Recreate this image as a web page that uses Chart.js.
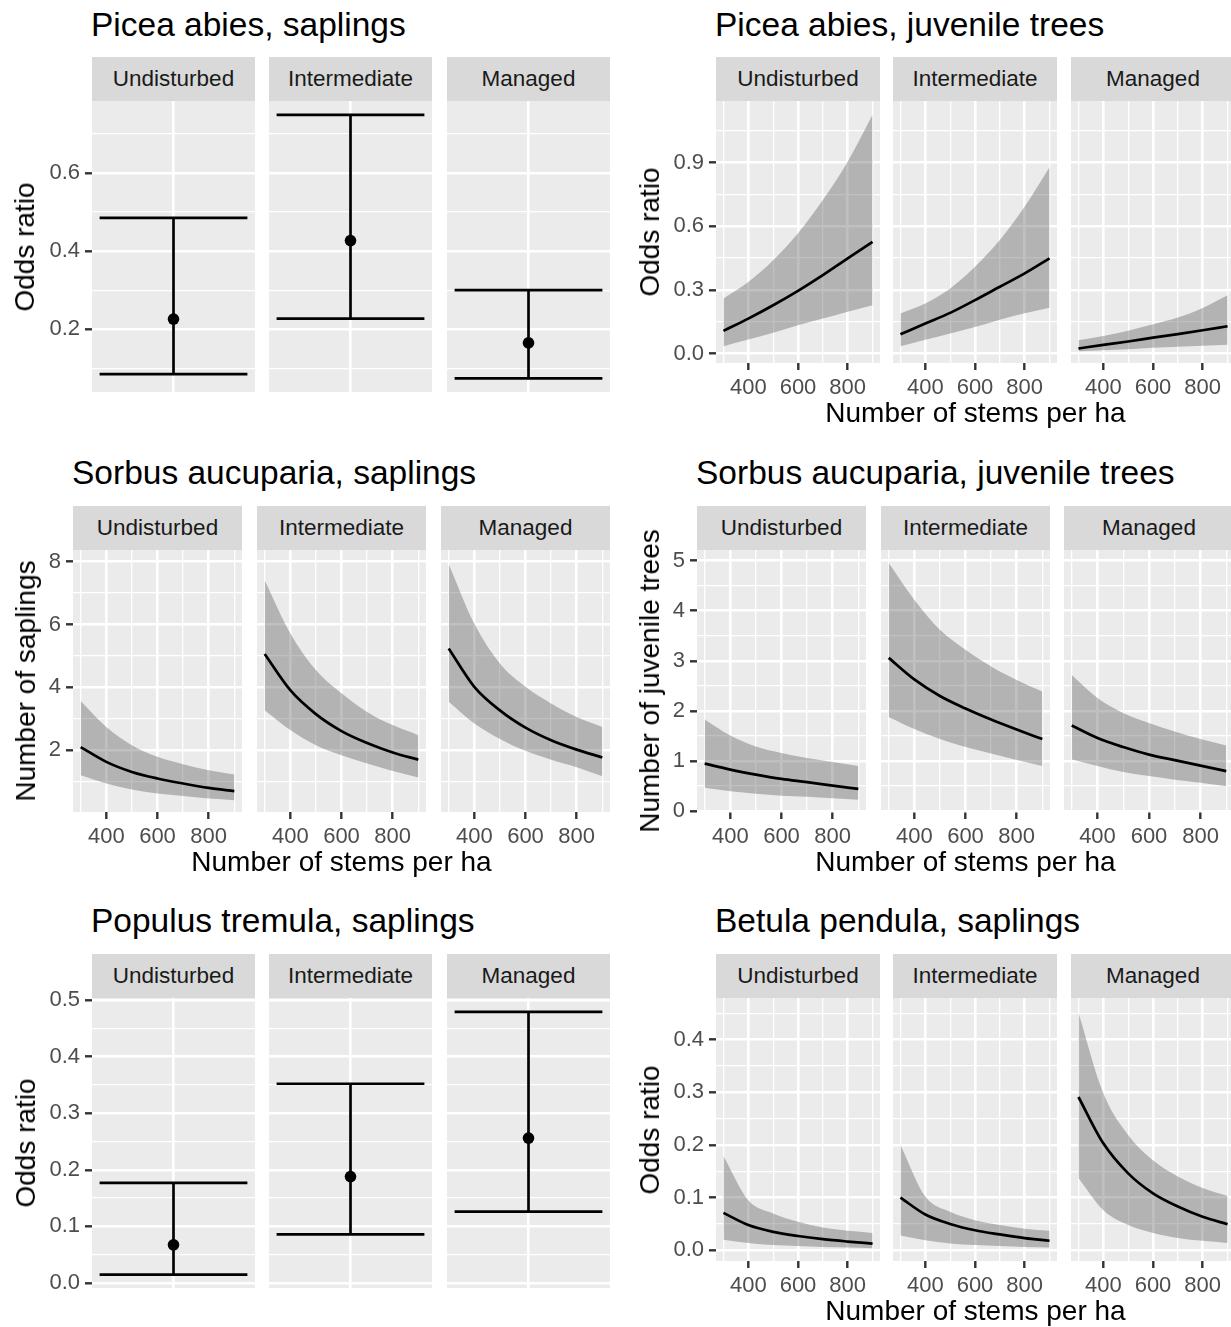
<!DOCTYPE html>
<html><head><meta charset="utf-8">
<script src="https://cdn.jsdelivr.net/npm/chart.js"></script>
<style>
html,body{margin:0;padding:0;background:#fff;}
body{width:1231px;height:1327px;position:relative;overflow:hidden;font-family:'Liberation Sans',Arial,Helvetica,sans-serif;}
.title{position:absolute;font-size:33.5px;line-height:33.5px;color:#000;white-space:nowrap;}
.strip{position:absolute;background:#D9D9D9;color:#1A1A1A;font-size:22.5px;line-height:44px;height:44px;text-align:center;white-space:nowrap;overflow:hidden;}
.ytitle{position:absolute;font-size:28px;line-height:28px;color:#000;white-space:nowrap;transform:translate(-50%,-50%) rotate(-90deg);}
.xtitle{position:absolute;font-size:28px;line-height:28px;color:#000;white-space:nowrap;transform:translateX(-50%);}
canvas{position:absolute;}
</style></head><body>
<script>
// ---------------- DATA ----------------
const facetNames = ["Undisturbed", "Intermediate", "Managed"];
const stems = [300, 400, 500, 600, 700, 800, 900];
const stemTicks = [400, 600, 800];
const stemMinor = [300, 500, 700, 900];

// Picea abies, saplings (odds ratio, estimate with CI)
const piceaSapEst = [0.226, 0.427, 0.165];
const piceaSapLo  = [0.085, 0.227, 0.074];
const piceaSapHi  = [0.485, 0.749, 0.300];
const piceaSapYTicks = [0.2, 0.4, 0.6];
const piceaSapYMinor = [0.1, 0.3, 0.5, 0.7];

// Picea abies, juvenile trees
const piceaJuvFit = [
  [0.107, 0.165, 0.228, 0.296, 0.370, 0.449, 0.527],
  [0.091, 0.142, 0.192, 0.252, 0.315, 0.378, 0.449],
  [0.024, 0.041, 0.057, 0.075, 0.092, 0.110, 0.129]];
const piceaJuvLo = [
  [0.035, 0.066, 0.098, 0.134, 0.165, 0.197, 0.228],
  [0.035, 0.065, 0.095, 0.125, 0.160, 0.190, 0.216],
  [0.011, 0.016, 0.021, 0.027, 0.032, 0.037, 0.042]];
const piceaJuvHi = [
  [0.260, 0.338, 0.440, 0.567, 0.724, 0.905, 1.126],
  [0.189, 0.236, 0.307, 0.409, 0.535, 0.693, 0.879],
  [0.063, 0.083, 0.108, 0.138, 0.170, 0.215, 0.275]];
const piceaJuvYTicks = [0.0, 0.3, 0.6, 0.9];
const piceaJuvYMinor = [0.15, 0.45, 0.75, 1.05];

// Sorbus aucuparia, saplings
const sorbusSapFit = [
  [2.10, 1.63, 1.31, 1.10, 0.94, 0.80, 0.70],
  [5.06, 3.91, 3.15, 2.61, 2.23, 1.93, 1.70],
  [5.24, 4.02, 3.27, 2.72, 2.32, 2.02, 1.77]];
const sorbusSapLo = [
  [1.20, 0.94, 0.75, 0.62, 0.54, 0.46, 0.41],
  [3.27, 2.64, 2.16, 1.84, 1.58, 1.34, 1.13],
  [3.54, 2.85, 2.36, 1.98, 1.70, 1.46, 1.17]];
const sorbusSapHi = [
  [3.57, 2.74, 2.16, 1.79, 1.55, 1.36, 1.23],
  [7.41, 5.72, 4.55, 3.81, 3.22, 2.80, 2.48],
  [7.92, 6.03, 4.76, 4.02, 3.49, 3.06, 2.74]];
const sorbusSapYTicks = [2, 4, 6, 8];
const sorbusSapYMinor = [1, 3, 5, 7];

// Sorbus aucuparia, juvenile trees
const sorbusJuvFit = [
  [0.95, 0.83, 0.73, 0.645, 0.58, 0.51, 0.446],
  [3.06, 2.63, 2.30, 2.05, 1.83, 1.63, 1.44],
  [1.71, 1.46, 1.28, 1.13, 1.02, 0.91, 0.80]];
const sorbusJuvLo = [
  [0.47, 0.40, 0.35, 0.31, 0.29, 0.26, 0.23],
  [1.88, 1.64, 1.44, 1.28, 1.15, 1.02, 0.90],
  [1.03, 0.90, 0.78, 0.70, 0.63, 0.57, 0.50]];
const sorbusJuvHi = [
  [1.83, 1.51, 1.29, 1.16, 1.06, 0.98, 0.90],
  [4.96, 4.22, 3.62, 3.22, 2.89, 2.62, 2.39],
  [2.72, 2.26, 1.96, 1.76, 1.59, 1.44, 1.31]];
const sorbusJuvYTicks = [0, 1, 2, 3, 4, 5];
const sorbusJuvYMinor = [0.5, 1.5, 2.5, 3.5, 4.5];

// Populus tremula, saplings
const populusEst = [0.0675, 0.188, 0.256];
const populusLo  = [0.015, 0.086, 0.126];
const populusHi  = [0.177, 0.352, 0.479];
const populusYTicks = [0.0, 0.1, 0.2, 0.3, 0.4, 0.5];
const populusYMinor = [0.05, 0.15, 0.25, 0.35, 0.45];

// Betula pendula, saplings
const betulaFit = [
  [0.071, 0.048, 0.035, 0.027, 0.021, 0.0165, 0.0127],
  [0.100, 0.068, 0.050, 0.038, 0.030, 0.023, 0.018],
  [0.291, 0.203, 0.146, 0.108, 0.083, 0.0635, 0.0495]];
const betulaLo = [
  [0.020, 0.014, 0.010, 0.008, 0.006, 0.005, 0.004],
  [0.028, 0.019, 0.013, 0.010, 0.008, 0.006, 0.005],
  [0.137, 0.076, 0.048, 0.033, 0.0235, 0.018, 0.014]];
const betulaHi = [
  [0.179, 0.095, 0.070, 0.054, 0.043, 0.037, 0.033],
  [0.200, 0.102, 0.073, 0.057, 0.048, 0.041, 0.037],
  [0.451, 0.298, 0.219, 0.171, 0.140, 0.118, 0.103]];
const betulaYTicks = [0.0, 0.1, 0.2, 0.3, 0.4];
const betulaYMinor = [0.05, 0.15, 0.25, 0.35, 0.45];

// ---------------- STYLE / LAYOUT ----------------
const FONT = "'Liberation Sans', Arial, Helvetica, sans-serif";
const RIBBON = 'rgba(75,75,75,0.35)';
const LINE_W = 2.7;
const CAP_HALF = 0.544;
const TITLE_FS = 33.5, AXT_FS = 28;
const PAD = 16;

const panels = [
  {title:"Picea abies, saplings", kind:'err', facets:[[92,255],[269,432],[447,610]], stripTop:57, top:101, bottom:392,
   yMin:0.0392, yMax:0.7846, yTicks:piceaSapYTicks, yMinor:piceaSapYMinor, dec:1, ytitle:"Odds ratio", ytBase:35, xtitle:null, titleBase:36,
   est:piceaSapEst, lo:piceaSapLo, hi:piceaSapHi},
  {title:"Picea abies, juvenile trees", kind:'curve', facets:[[716,880],[893,1057],[1071,1235]], stripTop:57, top:101, bottom:363,
   yMin:-0.0444, yMax:1.191, yTicks:piceaJuvYTicks, yMinor:piceaJuvYMinor, dec:1, ytitle:"Odds ratio", ytBase:660, xtitle:"Number of stems per ha", xtBase:423, titleBase:36,
   fit:piceaJuvFit, lo:piceaJuvLo, hi:piceaJuvHi},
  {title:"Sorbus aucuparia, saplings", kind:'curve', facets:[[73,242],[257,426],[441,610]], stripTop:506, top:550, bottom:812,
   yMin:0.034, yMax:8.373, yTicks:sorbusSapYTicks, yMinor:sorbusSapYMinor, dec:0, ytitle:"Number of saplings", ytBase:35.7, xtitle:"Number of stems per ha", xtBase:872, titleBase:484,
   fit:sorbusSapFit, lo:sorbusSapLo, hi:sorbusSapHi},
  {title:"Sorbus aucuparia, juvenile trees", kind:'curve', facets:[[697,866],[881,1050],[1064,1234]], stripTop:506, top:550, bottom:812,
   yMin:-0.016, yMax:5.213, yTicks:sorbusJuvYTicks, yMinor:sorbusJuvYMinor, dec:0, ytitle:"Number of juvenile trees", ytBase:660, xtitle:"Number of stems per ha", xtBase:872, titleBase:484,
   fit:sorbusJuvFit, lo:sorbusJuvLo, hi:sorbusJuvHi},
  {title:"Populus tremula, saplings", kind:'err', facets:[[92,255],[269,432],[447,610]], stripTop:954, top:998, bottom:1288,
   yMin:-0.0088, yMax:0.5035, yTicks:populusYTicks, yMinor:populusYMinor, dec:1, ytitle:"Odds ratio", ytBase:36, xtitle:null, titleBase:932.7,
   est:populusEst, lo:populusLo, hi:populusHi},
  {title:"Betula pendula, saplings", kind:'curve', facets:[[716,880],[893,1057],[1071,1235]], stripTop:954, top:998, bottom:1261,
   yMin:-0.0204, yMax:0.479, yTicks:betulaYTicks, yMinor:betulaYMinor, dec:1, ytitle:"Odds ratio", ytBase:660, xtitle:"Number of stems per ha", xtBase:1321, titleBase:932.7,
   fit:betulaFit, lo:betulaLo, hi:betulaHi}
];

// ---------------- HELPERS ----------------
function addDiv(cls, text, css) {
  const d = document.createElement('div');
  d.className = cls; d.textContent = text;
  Object.assign(d.style, css);
  document.body.appendChild(d);
  return d;
}

const panelBg = {
  id: 'panelBg',
  beforeDraw(chart) {
    const {ctx, chartArea: a} = chart;
    ctx.save();
    ctx.fillStyle = '#EBEBEB';
    ctx.fillRect(a.left, a.top, a.right - a.left, a.bottom - a.top);
    ctx.restore();
  }
};

function axisCfg(isX, min, max, major, minor, fmt, show, size) {
  return {
    type: 'linear', min: min, max: max, position: isX ? 'bottom' : 'left',
    afterBuildTicks: (s) => {
      const t = major.filter(v => v >= min && v <= max).map(v => ({value: v, isMajor: true}))
        .concat(minor.filter(v => v >= min && v <= max).map(v => ({value: v, isMajor: false})));
      t.sort((a, b) => a.value - b.value);
      s.ticks = t;
    },
    afterFit: (s) => {
      if (isX) s.height = size; else s.width = size;
      s.paddingLeft = 0; s.paddingRight = 0; s.paddingTop = 0; s.paddingBottom = 0;
    },
    grid: {
      color: '#FFFFFF',
      lineWidth: (ctx) => (ctx.tick && ctx.tick.isMajor) ? 2.6 : 1.3,
      drawOnChartArea: true,
      drawTicks: show,
      tickLength: 7,
      tickWidth: 2.4,
      tickColor: (ctx) => (ctx.tick && ctx.tick.isMajor) ? '#333333' : 'rgba(0,0,0,0)'
    },
    border: {display: false},
    ticks: {
      display: show, autoSkip: false, maxRotation: 0, minRotation: 0, padding: 5,
      color: '#4D4D4D', font: {family: FONT, size: 22},
      callback: (v, i, t) => (t[i] && t[i].isMajor) ? fmt(v) : ''
    }
  };
}

function makeFacet(o) {
  const YW = o.showY ? 80 : 0;
  const XH = o.showX ? 40 : 0;
  const padBottom = o.showX ? 0 : PAD;
  const w = (o.r - o.l) + YW, h = (o.b - o.t) + XH + PAD + padBottom;
  const c = document.createElement('canvas');
  c.width = w; c.height = h;
  c.style.left = (o.l - YW) + 'px'; c.style.top = (o.t - PAD) + 'px';
  c.style.width = w + 'px'; c.style.height = h + 'px';
  document.body.appendChild(c);
  new Chart(c, {
    type: 'line',
    data: {datasets: o.datasets},
    options: {
      responsive: false, maintainAspectRatio: false, animation: false, devicePixelRatio: 1,
      layout: {padding: {top: PAD, bottom: padBottom, left: 0, right: 0}, autoPadding: false},
      events: [],
      plugins: {legend: {display: false}, tooltip: {enabled: false}, title: {display: false}},
      scales: {
        x: axisCfg(true, o.xMin, o.xMax, o.xMajor, o.xMinor, v => String(v), o.showX, XH),
        y: axisCfg(false, o.yMin, o.yMax, o.yMajor, o.yMinor, o.yFmt, o.showY, YW)
      }
    },
    plugins: [panelBg]
  });
}

function pts(ys) { return ys.map((y, i) => ({x: stems[i], y: y})); }

// ---------------- BUILD ----------------
panels.forEach(p => {
  addDiv('title', p.title, {left: (p.facets[0][0] - 1) + 'px', top: (p.titleBase - 0.8465 * TITLE_FS) + 'px'});
  const fmt = v => v.toFixed(p.dec);
  p.facets.forEach((f, k) => {
    addDiv('strip', facetNames[k], {left: f[0] + 'px', width: (f[1] - f[0]) + 'px', top: p.stripTop + 'px'});
  });
  p.facets.forEach((f, k) => {
    let datasets, xMin, xMax, xMajor, xMinor, showX;
    if (p.kind === 'err') {
      xMin = -0.6; xMax = 0.6; xMajor = [0]; xMinor = []; showX = false;
      const base = {borderColor: '#000', borderWidth: LINE_W, pointRadius: 0, fill: false, order: 1};
      datasets = [
        {data: [{x: 0, y: p.est[k]}], showLine: false, pointRadius: 5.8, pointBackgroundColor: '#000', pointBorderWidth: 0, order: 0},
        Object.assign({data: [{x: -CAP_HALF, y: p.hi[k]}, {x: CAP_HALF, y: p.hi[k]}]}, base),
        Object.assign({data: [{x: -CAP_HALF, y: p.lo[k]}, {x: CAP_HALF, y: p.lo[k]}]}, base),
        Object.assign({data: [{x: 0, y: p.lo[k]}, {x: 0, y: p.hi[k]}]}, base)
      ];
    } else {
      xMin = 270; xMax = 930; xMajor = stemTicks; xMinor = stemMinor; showX = true;
      datasets = [
        {data: pts(p.lo[k]), borderWidth: 0, borderColor: 'rgba(0,0,0,0)', pointRadius: 0, fill: false, cubicInterpolationMode: 'monotone', order: 2},
        {data: pts(p.hi[k]), borderWidth: 0, borderColor: 'rgba(0,0,0,0)', pointRadius: 0, fill: '-1', backgroundColor: RIBBON, cubicInterpolationMode: 'monotone', order: 1},
        {data: pts(p.fit[k]), borderColor: '#000', borderWidth: LINE_W, pointRadius: 0, fill: false, cubicInterpolationMode: 'monotone', order: 0}
      ];
    }
    makeFacet({l: f[0], r: f[1], t: p.top, b: p.bottom, showY: k === 0, showX: showX,
      xMin, xMax, xMajor, xMinor, yMin: p.yMin, yMax: p.yMax, yMajor: p.yTicks, yMinor: p.yMinor, yFmt: fmt, datasets});
  });
  addDiv('ytitle', p.ytitle, {left: (p.ytBase - 0.3465 * AXT_FS) + 'px', top: ((p.top + p.bottom) / 2) + 'px'});
  if (p.xtitle) {
    const cx = (p.facets[0][0] + p.facets[2][1]) / 2;
    addDiv('xtitle', p.xtitle, {left: cx + 'px', top: (p.xtBase - 0.8465 * AXT_FS) + 'px'});
  }
});
</script>
</body></html>
